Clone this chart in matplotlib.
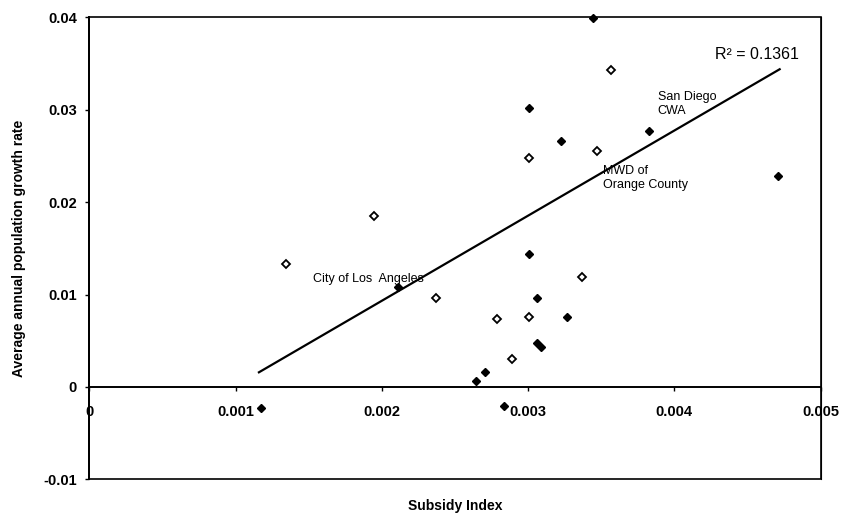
import matplotlib
matplotlib.use("Agg")
import matplotlib.pyplot as plt

plt.rcParams['font.family'] = ['Liberation Sans', 'DejaVu Sans']

# agencies drawn with a filled diamond
filled_x = [0.001171, 0.00211, 0.002643, 0.002705, 0.002837, 0.003003, 0.003058,
            0.00306, 0.00309, 0.003265, 0.003008, 0.003222, 0.003445, 0.003826, 0.004712]
filled_y = [-0.0023, 0.01082, 0.00068, 0.00165, -0.00202, 0.01442, 0.00967,
            0.0048, 0.0043, 0.00752, 0.0302, 0.0266, 0.0399, 0.02765, 0.0228]

# agencies drawn with an open diamond
open_x = [0.001346, 0.001948, 0.002368, 0.002785, 0.002891, 0.003003, 0.003371,
          0.003003, 0.003468, 0.003566]
open_y = [0.01334, 0.01845, 0.00963, 0.0073, 0.00299, 0.00755, 0.0119,
          0.02474, 0.0255, 0.0343]

# linear trendline (ends)
trend_x = [0.00116, 0.00472]
trend_y = [0.00158, 0.03438]

x_ticks = [0, 0.001, 0.002, 0.003, 0.004, 0.005]
x_labels = ['0', '0.001', '0.002', '0.003', '0.004', '0.005']
y_ticks = [-0.01, 0, 0.01, 0.02, 0.03, 0.04]
y_labels = ['-0.01', '0', '0.01', '0.02', '0.03', '0.04']

fig = plt.figure(figsize=(8.42, 5.14), dpi=100)
ax = fig.add_axes([0.106, 0.0675, 0.8686, 0.8988])

ax.plot(trend_x, trend_y, color='black', linewidth=1.6, zorder=2)
ax.plot(filled_x, filled_y, linestyle='none', marker='D', markersize=4.5,
        color='black', zorder=3, clip_on=False)
ax.plot(open_x, open_y, linestyle='none', marker='D', markersize=4.5,
        markerfacecolor='white', markeredgecolor='black', markeredgewidth=1.3,
        zorder=3, clip_on=False)

ax.set_xlim(0, 0.005)
ax.set_ylim(-0.01, 0.04)

# plot area frame + x axis crossing at zero
ax.patch.set_edgecolor('black')
ax.patch.set_linewidth(1.2)
ax.spines['bottom'].set_position(('data', 0))
ax.spines['bottom'].set_linewidth(1.4)
ax.spines['left'].set_linewidth(1.4)
ax.spines['top'].set_visible(False)
ax.spines['right'].set_linewidth(0.8)

ax.set_xticks(x_ticks)
ax.set_xticklabels(x_labels, fontsize=10.5, fontweight='bold')
ax.set_yticks(y_ticks)
ax.set_yticklabels(y_labels, fontsize=10.5, fontweight='bold')
ax.tick_params(axis='x', direction='out', length=3, width=1, pad=10)
ax.tick_params(axis='y', direction='out', length=3, width=1, pad=6)

ax.text(0.00428, 0.0360, 'R\u00b2 = 0.1361', fontsize=11.5, ha='left', va='center')
ax.text(0.003885, 0.0306, 'San Diego\nCWA', fontsize=9, ha='left', va='center',
        linespacing=1.2)
ax.text(0.003515, 0.0226, 'MWD of\nOrange County', fontsize=9, ha='left', va='center',
        linespacing=1.2)
ax.text(0.00153, 0.0117, 'City of Los  Angeles', fontsize=9, ha='left', va='center')

fig.text(0.0225, 0.5175, 'Average annual population growth rate', rotation=90,
         fontsize=10, fontweight='bold', ha='center', va='center')
fig.text(0.5405, 0.016, 'Subsidy Index', fontsize=10, fontweight='bold',
         ha='center', va='center')

fig.savefig('out.png', dpi=100)
